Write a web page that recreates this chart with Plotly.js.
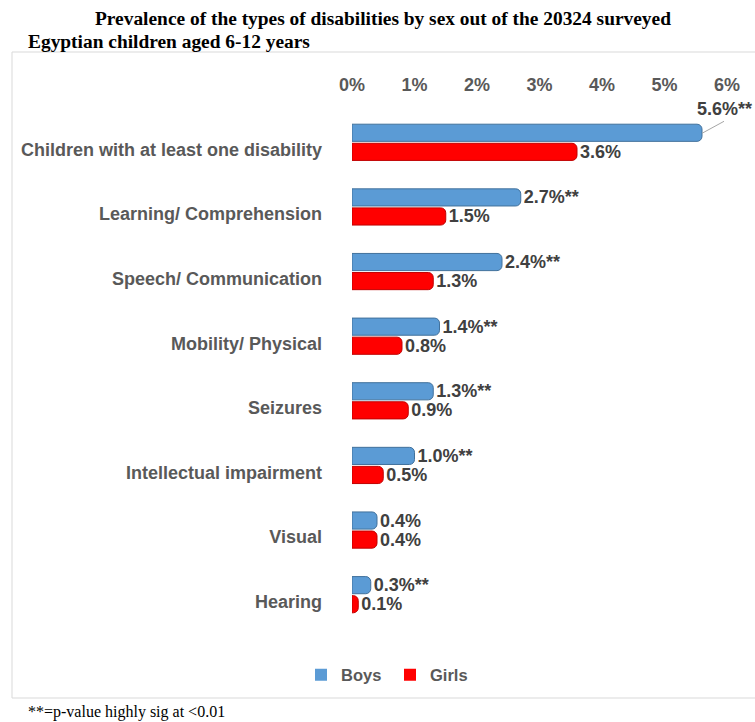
<!DOCTYPE html>
<html>
<head>
<meta charset="utf-8">
<script src="https://cdn.plot.ly/plotly-3.0.1.min.js"></script>
<style>html,body{margin:0;padding:0;background:#fff;}#chart{width:755px;height:722px;}</style>
</head>
<body>
<div id="chart"></div>
<script>
const categories = ["Children with at least one disability","Learning/ Comprehension","Speech/ Communication","Mobility/ Physical","Seizures","Intellectual impairment","Visual","Hearing"];
const boys = [5.6, 2.7, 2.4, 1.4, 1.3, 1.0, 0.4, 0.3];
const girls = [3.6, 1.5, 1.3, 0.8, 0.9, 0.5, 0.4, 0.1];
const boysSig = ["**","**","**","**","**","**","","**"];
const tickVals = [0,1,2,3,4,5,6];
const tickText = ["0%","1%","2%","3%","4%","5%","6%"];

const fmt = v => v.toFixed(1) + "%";
const SANS = "Arial, Liberation Sans, sans-serif";
const SERIF = "Liberation Serif, Times New Roman, serif";
const labelFont = {family:SANS, size:18, color:"#404040", weight:"bold"};

const boysText = boys.map((v,i)=> i===0 ? "" : fmt(v)+boysSig[i]);
const girlsText = girls.map(fmt);

const traces = [
  {type:"bar", orientation:"h", name:"Boys", y:categories, x:boys, text:boysText,
   textposition:"outside", cliponaxis:false, constraintext:"none", showlegend:false,
   textfont:labelFont,
   marker:{color:"#5B9BD5", line:{color:"#41719C", width:1}, cornerradius:5}, hoverinfo:"none"},
  {type:"bar", orientation:"h", name:"Girls", y:categories, x:girls, text:girlsText,
   textposition:"outside", cliponaxis:false, constraintext:"none", showlegend:false,
   textfont:labelFont,
   marker:{color:"#FF0000", line:{color:"#C00000", width:1}, cornerradius:5}, hoverinfo:"none"},
  {type:"scatter", mode:"markers", name:"Boys", x:[null], y:[null], showlegend:true,
   marker:{symbol:"square", size:9, color:"#5B9BD5"}, hoverinfo:"none"},
  {type:"scatter", mode:"markers", name:"Girls", x:[null], y:[null], showlegend:true,
   marker:{symbol:"square", size:9, color:"#FF0000"}, hoverinfo:"none"}
];

const L = 352, T = 110, W = 375, H = 517;
const px = x => (x - L)/W;
const py = y => (T + H - y)/H;

const layout = {
  width:755, height:722,
  margin:{l:L, r:755-L-W, t:T, b:722-T-H},
  paper_bgcolor:"#fff", plot_bgcolor:"#fff",
  barmode:"group", bargap:0.41, bargroupgap:0.1,
  showlegend:true,
  legend:{orientation:"h", x:px(301), xanchor:"left", y:py(675), yanchor:"middle",
    font:{family:SANS, size:16.5, color:"#595959", weight:"bold"},
    itemwidth:30, entrywidth:44, entrywidthmode:"pixels", itemsizing:"constant", tracegroupgap:0},
  xaxis:{range:[0,6], side:"top", tickvals:tickVals, ticktext:tickText,
    showgrid:false, zeroline:false, showline:false, ticks:"", ticklabelstandoff:14,
    tickfont:{family:SANS, size:18, color:"#595959", weight:"bold"}},
  yaxis:{autorange:"reversed", type:"category", showgrid:false, zeroline:false, showline:false,
    ticks:"", ticklabelstandoff:29, ticklabelshift:-7,
    tickfont:{family:SANS, size:18, color:"#595959", weight:"bold"}},
  shapes:[{type:"rect", xref:"paper", yref:"paper", x0:px(12), x1:px(770), y0:py(698), y1:py(52),
    line:{color:"#D9D9D9", width:1}, fillcolor:"rgba(0,0,0,0)", layer:"below"}],
  annotations:[
    {xref:"paper", yref:"paper", x:px(383), y:py(18), xanchor:"center", yanchor:"middle", showarrow:false,
     text:"Prevalence of the types of disabilities by sex out of the 20324 surveyed",
     font:{family:SERIF, size:19.4, color:"#000", weight:"bold"}},
    {xref:"paper", yref:"paper", x:px(26), y:py(42), xanchor:"left", yanchor:"middle", showarrow:false,
     text:"Egyptian children aged 6-12 years",
     font:{family:SERIF, size:19.4, color:"#000", weight:"bold"}},
    {xref:"paper", yref:"paper", x:px(26), y:py(712), xanchor:"left", yanchor:"middle", showarrow:false,
     text:"**=p-value highly sig at &lt;0.01",
     font:{family:SERIF, size:16, color:"#000"}},
    {xref:"x", yref:"y", x:boys[0], y:categories[0], yshift:9, showarrow:true, arrowhead:0,
     arrowcolor:"#A6A6A6", arrowwidth:1, ax:22, ay:-12, xanchor:"center", yanchor:"bottom",
     text:fmt(boys[0])+boysSig[0], font:labelFont}
  ]
};

Plotly.newPlot("chart", traces, layout, {displayModeBar:false, staticPlot:true});
</script>
</body>
</html>
